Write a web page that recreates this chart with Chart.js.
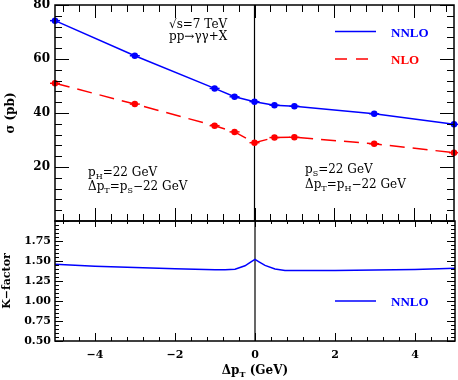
<!DOCTYPE html>
<html><head><meta charset="utf-8">
<script src="https://cdn.jsdelivr.net/npm/chart.js@4.4.0/dist/chart.umd.min.js"></script>
<style>
html,body{margin:0;padding:0;background:#fff;overflow:hidden}
#wrap{position:relative;width:458px;height:380px}
canvas{position:absolute;left:0;top:0}
</style></head>
<body><div id="wrap"><canvas id="cTop" width="458" height="380"></canvas><canvas id="cBot" width="458" height="380"></canvas></div>
<script>
// ---- data ----
const dpt  = [-5, -3, -1, -0.5, 0, 0.5, 1, 3, 5];
const nnlo = [74.2, 61.2, 49.1, 46.0, 44.2, 42.9, 42.5, 39.7, 35.8];
const nlo  = [51.0, 43.3, 35.3, 33.0, 29.0, 30.9, 31.0, 28.6, 25.3];
const kX   = [-5, -4, -3, -2, -1, -0.75, -0.5, -0.25, -0.1, 0, 0.1, 0.25, 0.5, 0.75, 1, 2, 3, 4, 5];
const kVal = [1.46, 1.435, 1.418, 1.402, 1.392, 1.392, 1.398, 1.44, 1.49, 1.52, 1.49, 1.445, 1.40, 1.382, 1.38, 1.38, 1.387, 1.395, 1.41];
const sigmaTicks = [20, 40, 60, 80];
const kTicks = [0.5, 0.75, 1.0, 1.25, 1.5, 1.75];
const xTicks = [-4, -2, 0, 2, 4];

const SERIF = '"DejaVu Serif", serif';
const LSERIF = '"Liberation Serif", serif';
const BLUE = '#0000ff', RED = '#ff0000';

function rich(ctx, x, y, segs, size, color, weight, fam) {
  ctx.fillStyle = color; ctx.textBaseline = 'alphabetic'; ctx.textAlign = 'left';
  for (const [t, sub] of segs) {
    const fs = sub ? Math.round(size * 0.7) : size;
    ctx.font = `${weight || ''} ${fs}px ${fam || SERIF}`;
    ctx.fillText(t, x, y + (sub ? 3 : 0));
    x += ctx.measureText(t).width;
  }
}
function richWidth(ctx, segs, size, weight) {
  let w = 0;
  for (const [t, sub] of segs) {
    const fs = sub ? Math.round(size * 0.7) : size;
    ctx.font = `${weight || ''} ${fs}px ${SERIF}`;
    w += ctx.measureText(t).width;
  }
  return w;
}

function drawFrame(chart, o) {
  const {ctx, chartArea: a, scales: {x, y}} = chart;
  ctx.save();
  ctx.strokeStyle = '#000';
  ctx.lineWidth = 1;
  for (let i = 0; i <= 24; i++) {
    const v = -4.8 + 0.4 * i;
    const major = Math.abs(v / 2 - Math.round(v / 2)) < 1e-6;
    const px = Math.round(x.getPixelForValue(v)) + 0.5;
    const lt = major ? o.xTopMaj : o.xTopMin;
    const lb = major ? o.xBotMaj : o.xBotMin;
    ctx.beginPath();
    ctx.moveTo(px, a.top); ctx.lineTo(px, a.top + lt);
    ctx.moveTo(px, a.bottom); ctx.lineTo(px, a.bottom - lb);
    ctx.stroke();
  }
  for (let i = 0; i <= o.yN; i++) {
    const v = o.y0 + o.yStep * i;
    const major = i % 5 === 0;
    const py = Math.round(y.getPixelForValue(v)) + 0.5;
    const l = major ? o.yMaj : o.yMin;
    ctx.beginPath();
    ctx.moveTo(a.left, py); ctx.lineTo(a.left + l, py);
    ctx.moveTo(a.right, py); ctx.lineTo(a.right - l, py);
    ctx.stroke();
  }
  ctx.lineWidth = 1.5;
  ctx.strokeRect(a.left, a.top, a.right - a.left, a.bottom - a.top);
  ctx.restore();
}
function drawZero(chart) {
  const {ctx, chartArea: a, scales: {x}} = chart;
  const px = x.getPixelForValue(0);
  ctx.save();
  ctx.strokeStyle = '#000'; ctx.lineWidth = 1.2;
  ctx.beginPath(); ctx.moveTo(px, a.top); ctx.lineTo(px, a.bottom); ctx.stroke();
  ctx.restore();
}

const topPlugin = {
  id: 'topDeco',
  beforeDatasetsDraw(chart) { drawZero(chart); },
  afterDatasetsDraw(chart) {
    const ctx = chart.ctx;
    chart.data.datasets.forEach((ds, i) => {
      const meta = chart.getDatasetMeta(i);
      ctx.save(); ctx.strokeStyle = ds.borderColor; ctx.lineWidth = 1.5;
      meta.data.forEach(p => { ctx.beginPath(); ctx.moveTo(p.x - 5, p.y); ctx.lineTo(p.x + 5, p.y); ctx.stroke(); });
      ctx.restore();
    });
  },
  afterDraw(chart) {
    const ctx = chart.ctx;
    drawFrame(chart, {xTopMaj: 13, xTopMin: 7, xBotMaj: 13, xBotMin: 7, y0: 0, yStep: 4, yN: 20, yMaj: 14, yMin: 7});
    ctx.save();
    ctx.lineWidth = 1.5;
    ctx.strokeStyle = BLUE; ctx.beginPath(); ctx.moveTo(335, 31.5); ctx.lineTo(376, 31.5); ctx.stroke();
    ctx.strokeStyle = RED; ctx.setLineDash([12, 9]); ctx.beginPath(); ctx.moveTo(335, 59); ctx.lineTo(369, 59); ctx.stroke();
    ctx.setLineDash([]);
    rich(ctx, 391, 37, [['NNLO']], 13, BLUE, 'bold', LSERIF);
    rich(ctx, 391, 64, [['NLO']], 13, RED, 'bold', LSERIF);
    rich(ctx, 169, 28, [['\u221As=7 TeV']], 12, '#000');
    rich(ctx, 169, 40, [['pp\u2192\u03B3\u03B3+X']], 12, '#000');
    rich(ctx, 88, 176, [['p'], ['H', 1], ['=22 GeV']], 12, '#000');
    rich(ctx, 88, 190, [['\u0394p'], ['T', 1], ['=p'], ['S', 1], ['\u221222 GeV']], 12, '#000');
    rich(ctx, 305, 173, [['p'], ['S', 1], ['=22 GeV']], 12, '#000');
    rich(ctx, 305, 188, [['\u0394p'], ['T', 1], ['=p'], ['H', 1], ['\u221222 GeV']], 12, '#000');
    ctx.restore();
  }
};

const botPlugin = {
  id: 'botDeco',
  beforeDatasetsDraw(chart) { drawZero(chart); },
  afterDraw(chart) {
    const ctx = chart.ctx;
    drawFrame(chart, {xTopMaj: 6, xTopMin: 3, xBotMaj: 8, xBotMin: 4, y0: 0.5, yStep: 0.05, yN: 30, yMaj: 8, yMin: 4});
    ctx.save();
    ctx.lineWidth = 1.5; ctx.strokeStyle = BLUE;
    ctx.beginPath(); ctx.moveTo(335, 301); ctx.lineTo(376, 301); ctx.stroke();
    rich(ctx, 391, 306, [['NNLO']], 13, BLUE, 'bold', LSERIF);
    const segs = [['\u0394p'], ['T', 1], [' (GeV)']];
    const w = richWidth(ctx, segs, 12, 'bold');
    const cx = chart.scales.x.getPixelForValue(0);
    rich(ctx, cx - w / 2, 374, segs, 12, '#000', 'bold');
    ctx.restore();
  }
};

const yCommon = {
  grid: {display: false, drawTicks: false},
  border: {display: false},
};

new Chart(document.getElementById('cTop'), {
  type: 'line',
  data: {
    datasets: [
      {label: 'NNLO', data: dpt.map((v, i) => ({x: v, y: nnlo[i]})), borderColor: BLUE, backgroundColor: BLUE,
       borderWidth: 1.5, pointRadius: 2.5, pointHoverRadius: 2.5, tension: 0, clip: false},
      {label: 'NLO', data: dpt.map((v, i) => ({x: v, y: nlo[i]})), borderColor: RED, backgroundColor: RED,
       borderWidth: 1.5, borderDash: [15, 8], pointRadius: 2.5, pointHoverRadius: 2.5, tension: 0, clip: false}
    ]
  },
  options: {
    responsive: false, animation: false, events: [],
    layout: {padding: {left: 0, right: 3, top: 5, bottom: 159}},
    plugins: {legend: {display: false}, tooltip: {enabled: false}},
    scales: {
      x: {type: 'linear', display: false, min: -5, max: 5},
      y: Object.assign({}, yCommon, {
        type: 'linear', min: 0, max: 80, position: 'left',
        afterBuildTicks(s) { s.ticks = sigmaTicks.map(v => ({value: v})); },
        afterFit(s) { s.width = 55; s.paddingTop = 0; s.paddingBottom = 0; },
        ticks: {font: {family: SERIF, size: 12, weight: 'bold'}, color: '#000', padding: 5},
        title: {display: true, text: '\u03C3 (pb)', font: {family: SERIF, size: 12, weight: 'bold'}, color: '#000', padding: {top: 4, bottom: 0}}
      })
    }
  },
  plugins: [topPlugin]
});

new Chart(document.getElementById('cBot'), {
  type: 'line',
  data: {
    datasets: [
      {label: 'NNLO', data: kX.map((v, i) => ({x: v, y: kVal[i]})), borderColor: BLUE, backgroundColor: BLUE,
       borderWidth: 1.5, pointRadius: 0, tension: 0}
    ]
  },
  options: {
    responsive: false, animation: false, events: [],
    layout: {padding: {left: 0, right: 3, top: 221, bottom: 0}},
    plugins: {legend: {display: false}, tooltip: {enabled: false}},
    scales: {
      x: {
        type: 'linear', min: -5, max: 5, position: 'bottom',
        grid: {display: false, drawTicks: false}, border: {display: false},
        afterBuildTicks(s) { s.ticks = xTicks.map(v => ({value: v})); },
        afterFit(s) { s.height = 39; s.paddingLeft = 0; s.paddingRight = 0; },
        ticks: {callback: v => v < 0 ? '\u2212' + Math.abs(v) : String(v), font: {family: SERIF, size: 11, weight: 'bold'},
                color: '#000', padding: 8, maxRotation: 0, autoSkip: false}
      },
      y: Object.assign({}, yCommon, {
        type: 'linear', min: 0.5, max: 2.0, position: 'left',
        afterBuildTicks(s) { s.ticks = kTicks.map(v => ({value: v})); },
        afterFit(s) { s.width = 55; s.paddingTop = 0; s.paddingBottom = 0; },
        ticks: {callback: v => v.toFixed(2), font: {family: SERIF, size: 11, weight: 'bold'}, color: '#000', padding: 4},
        title: {display: true, text: 'K\u2212factor', font: {family: SERIF, size: 11, weight: 'bold'}, color: '#000', padding: {top: 1, bottom: 0}}
      })
    }
  },
  plugins: [botPlugin]
});
</script>
</body></html>
